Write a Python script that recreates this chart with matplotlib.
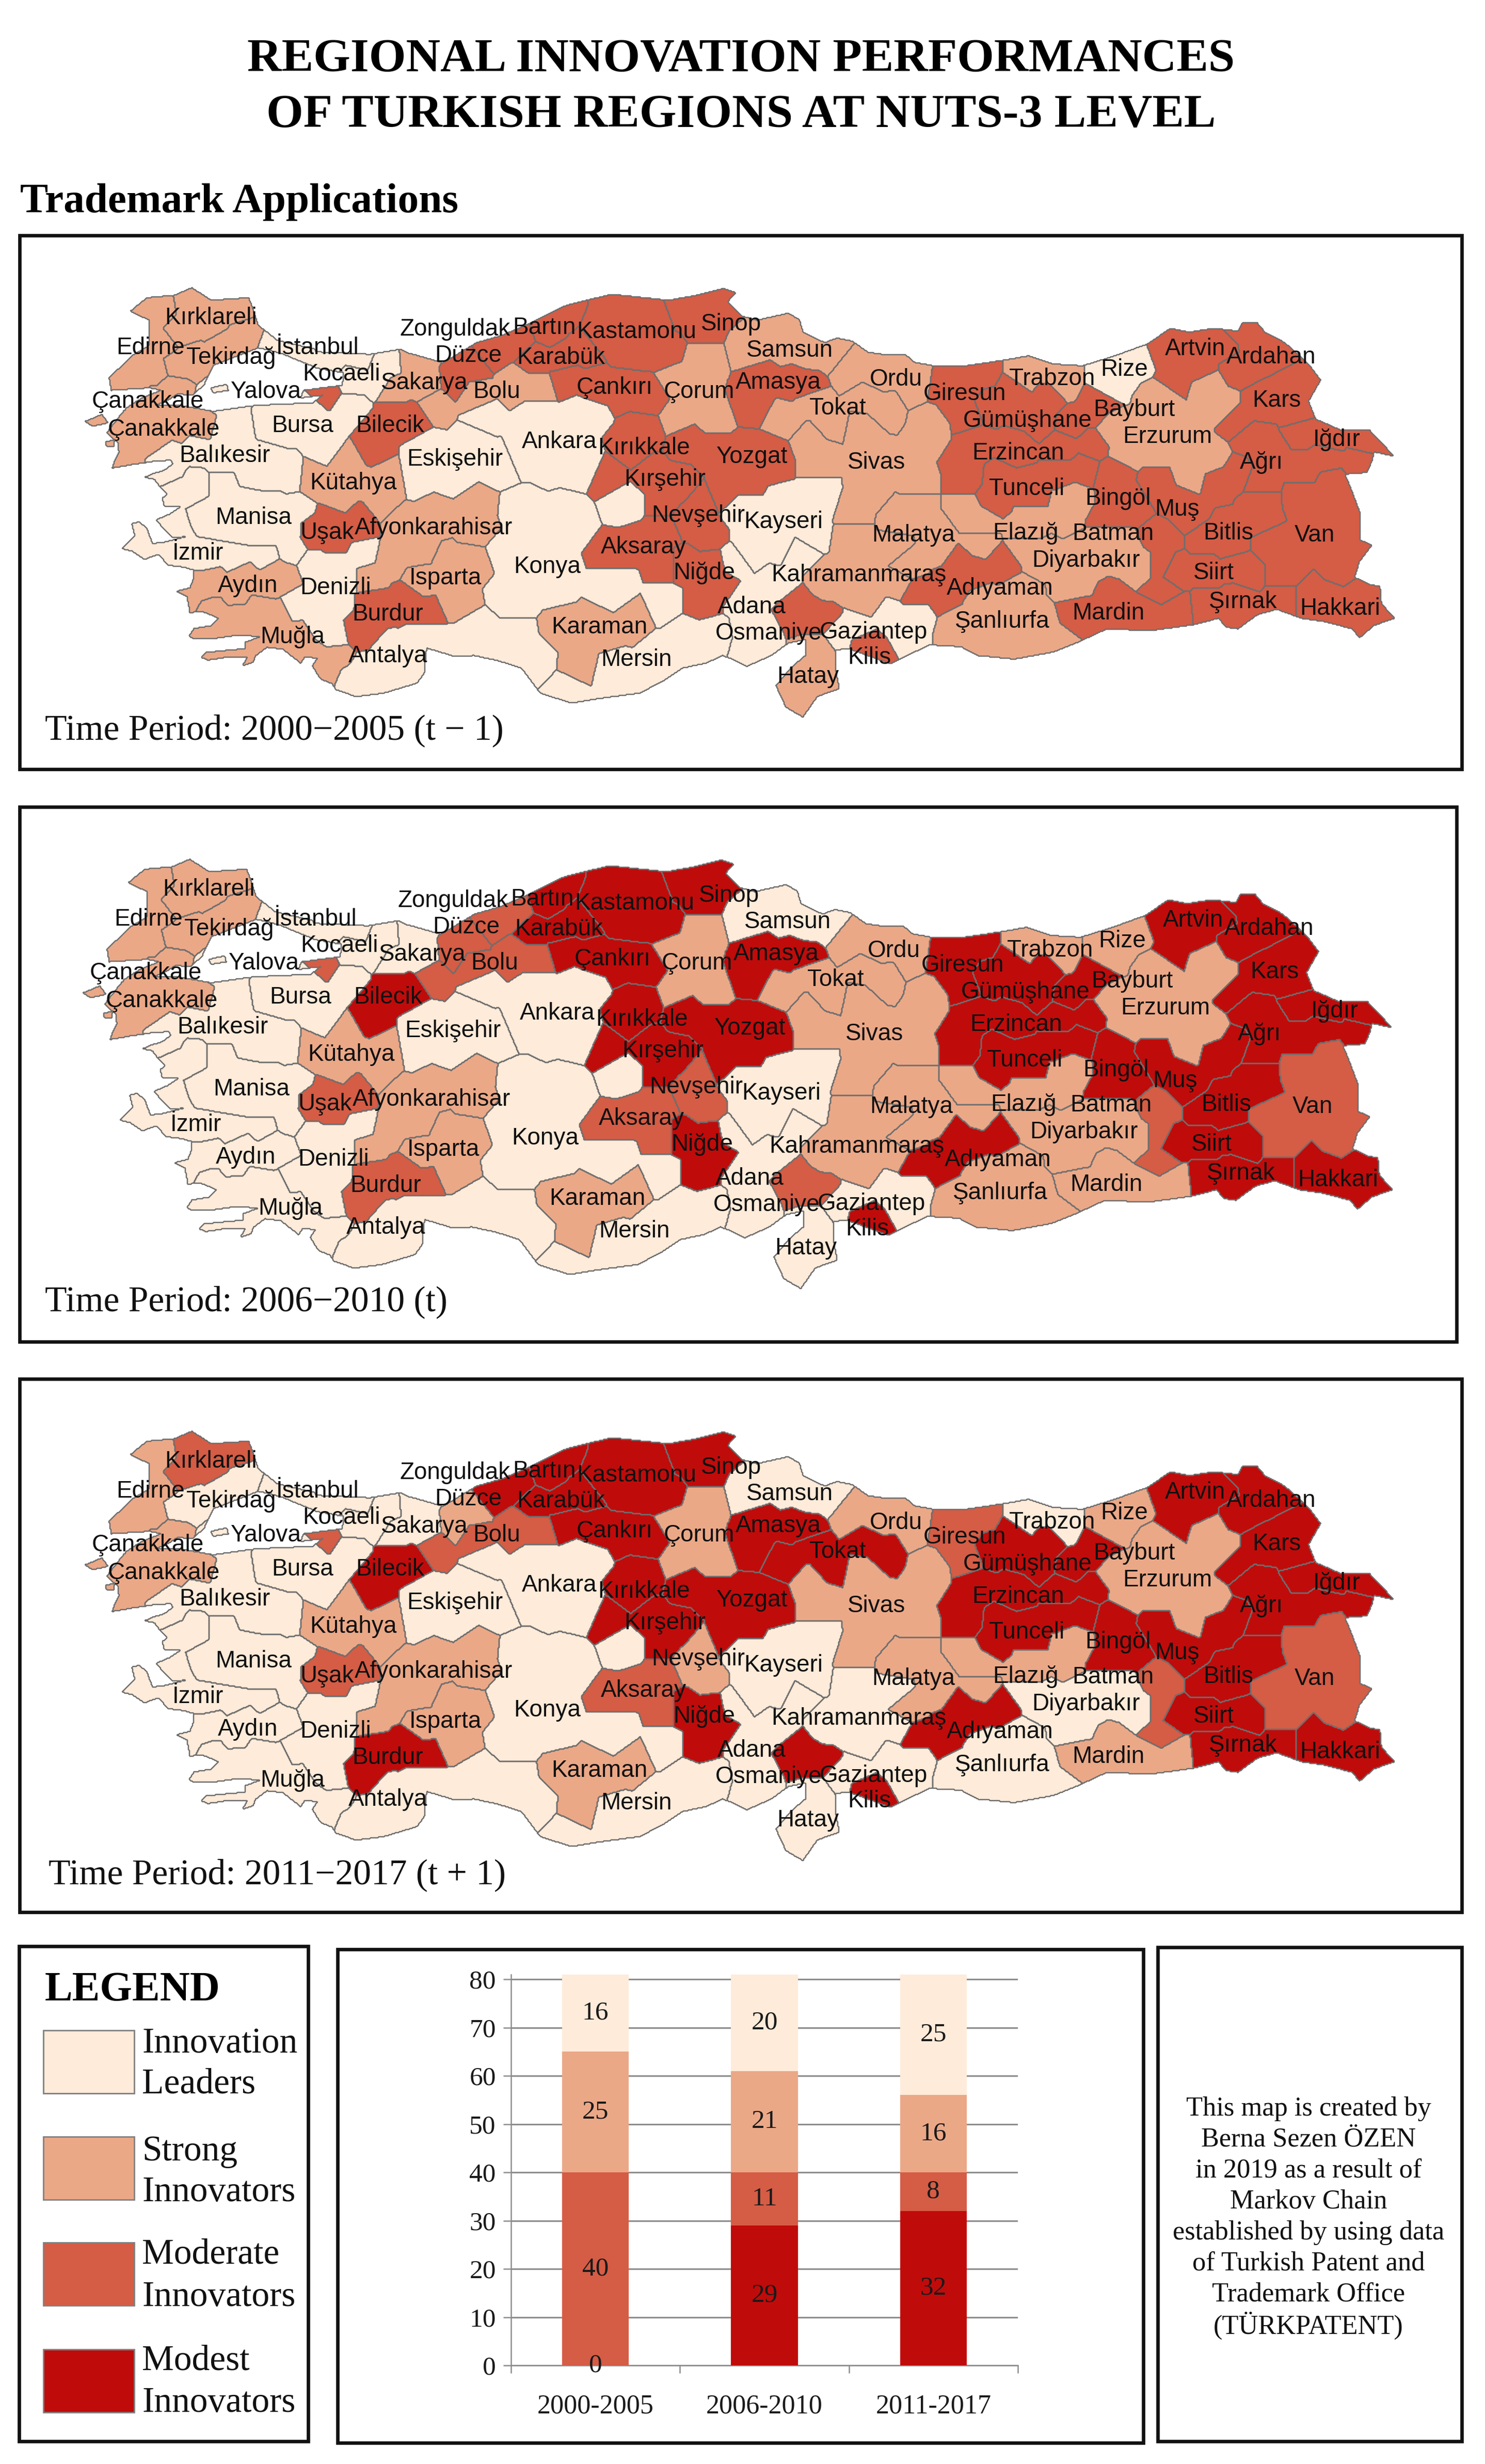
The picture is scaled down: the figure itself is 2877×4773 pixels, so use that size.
import numpy as np
import matplotlib
matplotlib.use("Agg")
import matplotlib.pyplot as plt
from matplotlib.path import Path
from matplotlib.patches import Rectangle

# ---------- chart values ----------
PERIODS = ["2000-2005", "2006-2010", "2011-2017"]
MODEST_COUNT = [0, 29, 32]
MODERATE_COUNT = [40, 11, 8]
STRONG_COUNT = [25, 21, 16]
LEADER_COUNT = [16, 20, 25]
CLASS_NAMES = [["Innovation", "Leaders"], ["Strong", "Innovators"], ["Moderate", "Innovators"], ["Modest", "Innovators"]]
CLASS_COLORS = ["#FEEBD9", "#EBA887", "#D55C45", "#C00B0B"]
PERIOD_TEXT = ["Time Period: 2000\u22122005 (t \u2212 1)", "Time Period: 2006\u22122010 (t)", "Time Period: 2011\u22122017 (t + 1)"]
NOTE_LINES = ["This map is created by", "Berna Sezen ÖZEN", "in 2019 as a result of", "Markov Chain",
              "established by using data", "of Turkish Patent and", "Trademark Office", "(TÜRKPATENT)"]

# class of each province per period (0 leaders, 1 strong, 2 moderate, 3 modest)
P1_LEADERS = ["İstanbul","Kocaeli","Bursa","Balıkesir","Manisa","İzmir","Denizli","Antalya","Eskişehir","Ankara","Konya","Mersin","Adana","Kayseri","Gaziantep","Rize"]
P1_STRONG = ["Edirne","Kırklareli","Tekirdağ","Çanakkale","Sakarya","Bolu","Aydın","Muğla","Kütahya","Afyonkarahisar","Isparta","Karaman","Çorum","Samsun","Tokat","Ordu","Sivas","Trabzon","Erzurum","Malatya","Elazığ","Diyarbakır","Kahramanmaraş","Şanlıurfa","Hatay"]
P1_MODEST = []
P2_LEADERS = ["İstanbul","Kocaeli","Sakarya","Bursa","Balıkesir","Manisa","İzmir","Aydın","Muğla","Denizli","Antalya","Eskişehir","Ankara","Konya","Mersin","Adana","Kayseri","Gaziantep","Hatay","Samsun"]
P2_STRONG = ["Edirne","Kırklareli","Tekirdağ","Çanakkale","Kütahya","Afyonkarahisar","Isparta","Karaman","Çorum","Tokat","Ordu","Sivas","Trabzon","Rize","Erzurum","Malatya","Elazığ","Diyarbakır","Kahramanmaraş","Şanlıurfa","Mardin"]
P2_MODERATE = ["Yalova","Düzce","Bolu","Zonguldak","Uşak","Burdur","Aksaray","Nevşehir","Osmaniye","Van","Batman"]
P3_LEADERS = ["İstanbul","Kocaeli","Sakarya","Tekirdağ","Bursa","Balıkesir","Manisa","İzmir","Aydın","Muğla","Denizli","Antalya","Eskişehir","Ankara","Konya","Mersin","Adana","Kayseri","Gaziantep","Hatay","Samsun","Trabzon","Diyarbakır","Kahramanmaraş","Şanlıurfa"]
P3_STRONG = ["Edirne","Düzce","Çanakkale","Kütahya","Afyonkarahisar","Isparta","Karaman","Çorum","Nevşehir","Sivas","Ordu","Rize","Erzurum","Malatya","Elazığ","Mardin"]
P3_MODERATE = ["Kırklareli","Yalova","Bolu","Uşak","Aksaray","Giresun","Van","Batman"]

# ---------- map geometry, read in three reference frames (W west, E east, S south-west crop) ----------
COAST_W_NORTH = [(665,703),(780,708),(845,698),(860,705),(935,725),(1005,685),(1060,670),(1120,645),(1195,610),(1290,588),(1410,600),(1470,590),(1520,578)]
COAST_E = [(0,172),(28,185),(10,210),(40,250),(70,262),(135,242),(158,260),(165,295),(210,325),(235,312),(265,320),(300,352),(340,360),(375,358),(395,380),(440,392),(490,392),(525,385),(575,375),(630,362),(680,385),(740,390),(800,365),(875,328),(920,285),(960,295),(1010,285),(1060,292),(1070,268),(1100,270),(1115,295),(1150,320),(1165,335),(1205,385),(1230,430),(1205,490),(1220,540),(1270,570),(1330,570),(1350,600),(1382,645),(1340,632),(1335,660),(1325,690),(1280,695),(1295,745),(1310,800),(1312,880),(1335,895),(1310,940),(1300,985),(1330,1005),(1352,1010),(1355,1060),(1383,1100),(1340,1120),(1310,1155),(1295,1130),(1240,1110),(1190,1100),(1140,1075),(1100,1090),(1060,1130),(1035,1125),(1020,1100),(970,1118),(880,1135),(790,1130),(735,1165),(680,1195),(600,1215),(525,1205),(490,1180),(425,1175),(345,1228),(258,1185),(232,1190),(232,1240),(240,1298),(195,1320),(165,1378),(130,1350),(110,1290),(140,1240),(170,1205),(170,1160),(135,1170),(100,1205),(50,1235),(20,1215),(0,1205)]
COAST_W_SOUTH = [(1490,1325),(1440,1335),(1400,1360),(1350,1385),(1270,1395),(1205,1405),(1140,1385),(1100,1335),(1050,1320),(1000,1310),(960,1312),(900,1295),(895,1345),(880,1365),(810,1385)]
COAST_S = [(1410,1305),(1310,1270),(1290,1240),(1230,1215),(1190,1150),(1215,1110),(1150,1105),(1130,1135),(1040,1065),(960,1055),(900,1100),(890,1130),(835,1150),(860,1105),(800,1105),(740,1108),(660,1120),(625,1105),(650,1082),(740,1072),(850,1062),(850,1030),(930,1000),(800,995),(700,1010),(590,1012),(565,1000),(590,960),(680,945),(715,910),(650,880),(620,875),(570,880),(555,800),(500,772),(570,755),(590,700),(590,665),(540,650),(460,640),(410,585),(340,610),(280,570),(225,555),(260,520),(290,490),(275,430),(310,420),(350,450),(380,530),(430,525),(490,510),(555,495),(480,500),(440,460),(400,410),(470,380),(520,345),(440,340),(430,300),(455,280),(415,240),(390,205),(340,195),(385,175),(440,160),(485,125),(470,108),(380,115),(280,130),(175,148),(190,110),(210,70),(205,20)]
COAST_W_MARMARA = [(225,865),(262,820),(300,810),(380,810),(450,822),(540,810),(660,805),(680,790),(635,795),(640,780),(722,770),(725,745),(665,735)]
THRACE_W = [(275,622),(310,595),(368,590),(405,575),(445,600),(525,595),(545,650),(585,680),(665,698),(668,735),(590,705),(545,695),(450,730),(430,770),(405,790),(375,787),(345,805),(300,815),(262,818),(300,795),(340,780),(315,775),(235,780),(230,755),(280,710),(315,690),(315,640)]
ISLANDS_W = [[(180,842),(215,828),(228,845),(195,852)], [(445,775),(478,768),(482,780),(450,785)], [(222,882),(242,880),(240,892),(225,892)]]

SEEDS_W = {
 "Edirne":[(300,640),(340,620),(340,690),(290,760),(330,740)],
 "Kırklareli":[(400,610),(450,640),(500,620),(380,660)],
 "Tekirdağ":[(400,720),(480,690),(515,665),(370,730)],
 "İstanbul":[(585,690),(640,715),(700,717),(755,714)],
 "Kocaeli":[(745,755),(810,735),(800,760)],
 "Yalova":[(680,782)],
 "Sakarya":[(880,730),(900,770),(830,778)],
 "Düzce":[(990,735),(960,765)],
 "Bolu":[(920,805),(1000,790),(1090,770),(1130,775)],
 "Zonguldak":[(1040,697),(1095,680)],
 "Bartın":[(1155,660),(1175,632)],
 "Karabük":[(1130,715),(1190,715),(1230,700)],
 "Kastamonu":[(1300,640),(1380,650),(1330,700),(1270,670),(1405,700)],
 "Sinop":[(1450,625),(1510,610),(1480,650)],
 "Çankırı":[(1250,770),(1320,775),(1370,795),(1200,755)],
 "Çorum":[(1470,780),(1480,720),(1430,760),(1500,830),(1430,835)],
 "Çanakkale":[(270,850),(370,850),(430,850),(260,910),(330,880),(362,775),(320,800),(200,840),(232,886)],
 "Balıkesir":[(470,860),(480,910),(570,940),(420,900),(360,925),(610,955),(460,795)],
 "Bursa":[(600,840),(680,860),(650,815),(740,820),(690,892)],
 "Bilecik":[(830,830),(790,860),(865,840),(785,890)],
 "Eskişehir":[(900,900),(1000,880),(1050,920),(950,950),(880,950)],
 "Ankara":[(1020,835),(1130,830),(1230,825),(1160,910),(1230,925),(1100,900),(1320,1000)],
 "Kırıkkale":[(1360,860),(1330,900)],
 "Kırşehir":[(1290,950),(1370,950),(1430,970),(1400,1000)],
 "Kütahya":[(730,920),(660,960),(760,970),(820,960),(720,1000),(800,1000)],
 "Afyonkarahisar":[(920,1030),(1000,1020),(850,1050),(820,1120),(880,1100),(1010,1060),(780,1150)],
 "Burdur":[(860,1200),(790,1210),(760,1260),(900,1225)],
 "Isparta":[(950,1130),(960,1200),(890,1160),(1000,1120)],
 "Antalya":[(780,1340),(900,1270),(1000,1265),(1080,1290),(1140,1325),(820,1310),(750,1360),(960,1290)],
 "Konya":[(1150,1090),(1060,1100),(1200,1040),(1300,1190),(1080,1180),(1170,1150),(1400,1200),(1300,1160),(1100,1030)],
 "Karaman":[(1270,1250),(1200,1270),(1210,1330),(1330,1230)],
 "Mersin":[(1190,1370),(1300,1350),(1400,1310),(1450,1270),(1500,1270)],
 "Aksaray":[(1350,1090),(1300,1110),(1400,1060),(1400,1130)],
 "Nevşehir":[(1450,1040),(1490,1060),(1480,1010)],
 "Niğde":[(1500,1140),(1480,1200),(1440,1130),(1530,1170)],
 "Yozgat":[(1500,900),(1560,930),(1450,880),(1530,990)],
}
SEEDS_S = {
 "Balıkesir":[(460,170),(730,110),(880,170),(1000,190),(450,80)],
 "İzmir":[(600,230),(585,270),(500,260),(480,420),(500,520),(650,590),(800,590),(950,590),(330,500),(320,560),(450,600)],
 "Manisa":[(730,230),(640,370),(820,470),(950,490),(680,420),(850,330),(1000,340),(1100,350),(1080,555),(1060,470)],
 "Uşak":[(1200,480),(1300,510),(1420,440),(1300,410),(1420,400)],
 "Aydın":[(1040,700),(950,740),(800,770),(640,750),(680,730),(850,700),(1000,680),(560,800)],
 "Muğla":[(810,910),(930,860),(680,960),(1000,900),(1130,1000),(1220,1100),(1300,1100),(900,1070),(720,1090),(1260,1180),(680,870)],
 "Denizli":[(1120,840),(1220,940),(1290,1000),(1300,830),(1300,650),(1200,640),(1450,590),(1350,690)],
 "Antalya":[(1440,1200),(1380,1230)],
}
SEEDS_E = {
 "Yozgat":[(50,640),(100,640),(30,720)],
 "Samsun":[(110,290),(130,330),(220,350),(60,340),(175,350)],
 "Amasya":[(80,430),(150,440),(60,490),(170,450)],
 "Tokat":[(180,490),(300,480),(130,540),(220,550),(330,510)],
 "Ordu":[(320,420),(400,450),(370,400),(265,400)],
 "Giresun":[(500,450),(470,500),(530,410),(500,525),(450,460)],
 "Trabzon":[(620,420),(700,440),(670,400)],
 "Rize":[(820,400),(860,370),(790,440)],
 "Artvin":[(970,340),(930,320),(1030,330),(930,420),(980,390),(900,350)],
 "Ardahan":[(1090,320),(1110,360),(1060,400),(1150,350),(1060,290)],
 "Kars":[(1150,470),(1100,500),(1180,430),(1060,540),(1190,520)],
 "Iğdır":[(1250,590),(1320,600),(1200,570)],
 "Ağrı":[(1120,640),(1240,650),(1310,660),(1090,590),(1100,720),(1200,680)],
 "Erzurum":[(900,480),(1000,450),(960,560),(900,620),(1000,650),(830,620),(960,700),(1030,500),(800,570)],
 "Bayburt":[(760,520),(720,550),(770,490)],
 "Gümüşhane":[(620,520),(550,500),(650,540),(670,480),(600,460)],
 "Erzincan":[(600,620),(520,610),(700,620),(500,700),(760,610),(490,660)],
 "Tunceli":[(620,730),(570,710),(640,770),(560,760),(700,690),(740,680)],
 "Bingöl":[(810,760),(800,700),(800,820),(840,780)],
 "Muş":[(940,770),(900,730),(1020,720),(1060,700),(960,800)],
 "Bitlis":[(1040,850),(1000,880),(1100,810),(1040,900),(1100,770)],
 "Van":[(1220,850),(1200,760),(1280,950),(1150,970),(1250,720),(1130,900),(1300,850)],
 "Hakkari":[(1250,1060),(1330,1090),(1320,1030),(1300,1130),(1210,1050)],
 "Şırnak":[(1060,1050),(1000,1070),(1150,1050),(1040,1100)],
 "Siirt":[(1000,960),(930,970),(1080,970),(1050,950)],
 "Batman":[(900,950),(905,1020),(900,880)],
 "Mardin":[(800,1090),(880,1090),(730,1080),(930,1080),(800,1060)],
 "Diyarbakır":[(750,930),(650,930),(830,920),(720,1010),(800,870),(860,950),(620,900)],
 "Şanlıurfa":[(570,1100),(480,1120),(650,1110),(610,1030),(680,1170),(560,1190),(540,1060)],
 "Adıyaman":[(470,1000),(515,965),(400,1030),(450,1040),(490,950),(575,945)],
 "Malatya":[(400,800),(440,860),(440,900),(380,950),(360,820),(530,890)],
 "Elazığ":[(620,850),(530,830),(700,790),(720,760),(500,800),(640,800)],
 "Kahramanmaraş":[(290,950),(250,1000),(300,1050),(210,1000),(270,870),(350,900),(360,1000)],
 "Sivas":[(320,650),(200,640),(420,600),(400,700),(300,750),(270,800),(430,540),(180,600),(290,570)],
 "Kayseri":[(130,800),(60,850),(200,770),(120,900),(60,920),(30,790),(180,850)],
 "Adana":[(100,1000),(40,1040),(60,1130),(150,920),(120,1000),(60,1180),(30,950)],
 "Osmaniye":[(175,1080),(155,1060),(200,1100)],
 "Gaziantep":[(280,1130),(380,1130),(240,1150),(340,1090),(400,1090)],
 "Kilis":[(300,1190),(292,1168)],
 "Hatay":[(190,1250),(165,1340),(200,1190),(140,1280)],
}
LABELS_W = [("Kırklareli",445,632),("Edirne",318,692),("Tekirdağ",488,712),("İstanbul",670,692),("Kocaeli",720,745),("Yalova",560,780),("Sakarya",895,762),("Zonguldak",960,655),("Düzce",988,708),("Bartın",1148,652),("Kastamonu",1343,660),("Karabük",1183,712),("Sinop",1543,645),("Bolu",1048,780),("Çankırı",1297,772),("Çorum",1475,780),("Çanakkale",312,800),("Çanakkale",345,855),("Bursa",638,848),("Bilecik",823,848),("Balıkesir",474,908),("Eskişehir",960,915),("Ankara",1180,880),("Kırıkkale",1358,892),("Kırşehir",1403,955),("Kütahya",745,962),("Manisa",535,1032),("Uşak",690,1062),("Afyonkarahisar",915,1052),("Nevşehir",1473,1027),("İzmir",418,1103),("Aksaray",1358,1090),("Konya",1155,1130),("Isparta",940,1152),("Niğde",1486,1142),("Aydın",523,1168),("Denizli",708,1172),("Burdur",818,1225),("Karaman",1265,1250),("Muğla",617,1270),("Antalya",818,1308),("Mersin",1343,1315)]
LABELS_E = [("Yozgat",60,642),("Adana",60,1065),("Osmaniye",95,1138),("Kayseri",125,825),("Kahramanmaraş",280,975),("Samsun",138,342),("Amasya",115,432),("Tokat",237,505),("Ordu",357,424),("Giresun",498,465),("Trabzon",678,423),("Rize",826,397),("Artvin",972,338),("Ardahan",1128,362),("Kars",1140,484),("Bayburt",847,510),("Gümüşhane",627,540),("Erzurum",915,585),("Iğdır",1263,594),("Ağrı",1108,658),("Sivas",317,658),("Erzincan",608,632),("Tunceli",625,732),("Bingöl",813,760),("Muş",935,790),("Bitlis",1040,857),("Van",1218,862),("Malatya",393,862),("Elazığ",623,856),("Batman",803,858),("Diyarbakır",747,933),("Siirt",1010,968),("Şırnak",1070,1050),("Hakkari",1270,1068),("Adıyaman",570,1012),("Mardin",793,1082),("Şanlıurfa",575,1105),("Gaziantep",310,1136),("Kilis",302,1207),("Hatay",175,1260)]


def from_w(p):
    return (p[0] / 1.0889, p[1] / 1.0316)


def from_e(p):
    return (1400 + p[0] / 1.0616, 440 + p[1] / 1.452)


def from_s(p):
    return (150 + p[0] / 2.613, 850 + p[1] / 2.613)


names = sorted(set(SEEDS_W) | set(SEEDS_E) | set(SEEDS_S))
seed_xy, seed_id = [], []
for i, n in enumerate(names):
    for table, conv in ((SEEDS_W, from_w), (SEEDS_E, from_e), (SEEDS_S, from_s)):
        for p in table.get(n, []):
            seed_xy.append(conv(p))
            seed_id.append(i)
seed_xy = np.array(seed_xy)
seed_id = np.array(seed_id)

STEP = 2
gx = np.arange(130, 2720, STEP, dtype=float)
gy = np.arange(500, 1420, STEP, dtype=float)
X, Y = np.meshgrid(gx, gy)
pts = np.column_stack([X.ravel(), Y.ravel()])
land = np.zeros(len(pts), bool)
anatolia = ([from_w(p) for p in COAST_W_NORTH] + [from_e(p) for p in COAST_E] + [from_w(p) for p in COAST_W_SOUTH]
            + [from_s(p) for p in COAST_S] + [from_w(p) for p in COAST_W_MARMARA])
polys = [anatolia, [from_w(p) for p in THRACE_W]] + [[from_w(p) for p in isl] for isl in ISLANDS_W]
for poly in polys:
    land |= Path(poly + [poly[0]]).contains_points(pts)
best = np.full(X.shape, np.inf)
owner = np.full(X.shape, -1, dtype=int)
for (sx, sy), sid in zip(seed_xy, seed_id):
    d = (X - sx) ** 2 + (Y - sy) ** 2
    m = d < best
    best[m] = d[m]
    owner[m] = sid
owner[~land.reshape(X.shape)] = -1


def classes(leaders, strong, modest=None, moderate=None):
    out = {}
    for n in names:
        if n in leaders:
            out[n] = 0
        elif n in strong:
            out[n] = 1
        elif modest is not None:
            out[n] = 2
        elif n in moderate:
            out[n] = 2
        else:
            out[n] = 3
    return out


PERIOD_CLASS = [classes(P1_LEADERS, P1_STRONG, modest=P1_MODEST),
                classes(P2_LEADERS, P2_STRONG, moderate=P2_MODERATE),
                classes(P3_LEADERS, P3_STRONG, moderate=P3_MODERATE)]
MAP_SHIFT = [(0, 0), (-4, 1107), (0, 2215)]
FRAMES = [(38, 456, 2832, 1490), (38, 1563, 2822, 2599), (38, 2671, 2832, 3704),
          (37, 3770, 597, 4729), (654, 3776, 2215, 4732), (2243, 3772, 2832, 4729)]
PERIOD_POS = [(87, 1415), (87, 2522), (94, 3632)]

SANS = "Liberation Sans"
SERIF = "Liberation Serif"
fig = plt.figure(figsize=(28.77, 47.73), dpi=100, facecolor="white")
ax = fig.add_axes([0, 0, 1, 1])
ax.set_xlim(0, 2877)
ax.set_ylim(4773, 0)
ax.axis("off")

BORDER = "#6E6E6E"
for (dx, dy), cls in zip(MAP_SHIFT, PERIOD_CLASS):
    for i, n in enumerate(names):
        r, c = np.where(owner == i)
        r0, r1 = max(r.min() - 2, 0), min(r.max() + 3, X.shape[0])
        c0, c1 = max(c.min() - 2, 0), min(c.max() + 3, X.shape[1])
        mask = (owner[r0:r1, c0:c1] == i).astype(float)
        xs, ys = X[r0:r1, c0:c1] + dx, Y[r0:r1, c0:c1] + dy
        ax.contourf(xs, ys, mask, levels=[0.5, 1.5], colors=[CLASS_COLORS[cls[n]]], zorder=2)
    for i, n in enumerate(names):
        r, c = np.where(owner == i)
        r0, r1 = max(r.min() - 2, 0), min(r.max() + 3, X.shape[0])
        c0, c1 = max(c.min() - 2, 0), min(c.max() + 3, X.shape[1])
        mask = (owner[r0:r1, c0:c1] == i).astype(float)
        xs, ys = X[r0:r1, c0:c1] + dx, Y[r0:r1, c0:c1] + dy
        ax.contour(xs, ys, mask, levels=[0.5], colors=[BORDER], linewidths=1.8, zorder=3)
    for label, a, b in LABELS_W:
        x, y = from_w((a, b))
        ax.text(x + dx, y + dy + 3, label, family=SANS, fontsize=33, color="#111111", ha="center", va="center", zorder=5)
    for label, a, b in LABELS_E:
        x, y = from_e((a, b))
        ax.text(x + dx, y + dy + 3, label, family=SANS, fontsize=33, color="#111111", ha="center", va="center", zorder=5)

for x0, y0, x1, y1 in FRAMES:
    ax.add_patch(Rectangle((x0, y0), x1 - x0, y1 - y0, fill=False, ec="#111111", lw=4.8, zorder=6))

ax.text(1436, 116, "REGIONAL INNOVATION PERFORMANCES", family=SERIF, weight="bold", fontsize=66.4, ha="center", va="center")
ax.text(1436, 224, "OF TURKISH REGIONS AT NUTS-3 LEVEL", family=SERIF, weight="bold", fontsize=66.4, ha="center", va="center")
ax.text(39, 391, "Trademark Applications", family=SERIF, weight="bold", fontsize=58.5, ha="left", va="center")
for (x, y), s in zip(PERIOD_POS, PERIOD_TEXT):
    ax.text(x, y, s, family=SERIF, fontsize=50, ha="left", va="center", color="#111111")

# legend
ax.text(87, 3855, "LEGEND", family=SERIF, weight="bold", fontsize=58, ha="left", va="center")
SWATCH_TOPS = [3933, 4139, 4344, 4551]
LINE_Y = [(3959, 4038), (4168, 4247), (4368, 4450), (4574, 4655)]
for top, col, lines, ys in zip(SWATCH_TOPS, CLASS_COLORS, CLASS_NAMES, LINE_Y):
    ax.add_patch(Rectangle((84, top), 176, 122, fc=col, ec="#7F7F7F", lw=2, zorder=3))
    for s, y in zip(lines, ys):
        ax.text(275, y, s, family=SERIF, fontsize=50, ha="left", va="center", color="#111111")

for k, s in enumerate(NOTE_LINES):
    ax.text(2535, 4085 + k * 60, s, family=SERIF, fontsize=37.7, ha="center", va="center", color="#111111")

# stacked bar chart
W, H = 2877.0, 4773.0
y0_px, y80_px = 4582.0, 3834.0
px_per = (y0_px - y80_px) / 80.0
top_val = 81.0
bax = fig.add_axes([990 / W, 1 - y0_px / H, (1972 - 990) / W, top_val * px_per / H], zorder=5)
bax.patch.set_alpha(0)
xpos = np.arange(3)
series = [MODEST_COUNT, MODERATE_COUNT, STRONG_COUNT, LEADER_COUNT]
cols = [CLASS_COLORS[3], CLASS_COLORS[2], CLASS_COLORS[1], CLASS_COLORS[0]]
bottom = np.zeros(3)
for vals, col in zip(series, cols):
    vals = np.array(vals, float)
    bax.bar(xpos, vals, 0.395, bottom=bottom, color=col, zorder=3)
    for xi, b, v in zip(xpos, bottom, vals):
        bax.text(xi, b + v / 2, f"{int(v)}", family=SERIF, fontsize=37, ha="center", va="center", color="#1A1A1A", zorder=4, clip_on=False)
    bottom += vals
bax.set_xlim(-0.5, 2.5)
bax.set_ylim(0, top_val)
bax.set_yticks(np.arange(0, 81, 10))
bax.set_xticks([-0.5, 0.5, 1.5, 2.5], minor=False)
bax.set_xticklabels([])
bax.set_xticks(xpos, labels=PERIODS, minor=True)
bax.grid(axis="y", color="#8C8C8C", lw=2.2, zorder=1)
for s in ("top", "right"):
    bax.spines[s].set_visible(False)
for s in ("left", "bottom"):
    bax.spines[s].set_color("#8C8C8C")
    bax.spines[s].set_linewidth(1.8)
bax.tick_params(axis="y", which="major", length=11, width=1.8, color="#8C8C8C", labelsize=37, pad=10, labelcolor="#1A1A1A")
bax.tick_params(axis="x", which="major", length=11, width=1.8, color="#8C8C8C")
bax.tick_params(axis="x", which="minor", length=0, labelsize=37.5, pad=40, labelcolor="#1A1A1A")
for t in bax.get_yticklabels() + bax.get_xticklabels(minor=True):
    t.set_family(SERIF)

fig.savefig("out.png", dpi=100, facecolor="white")
